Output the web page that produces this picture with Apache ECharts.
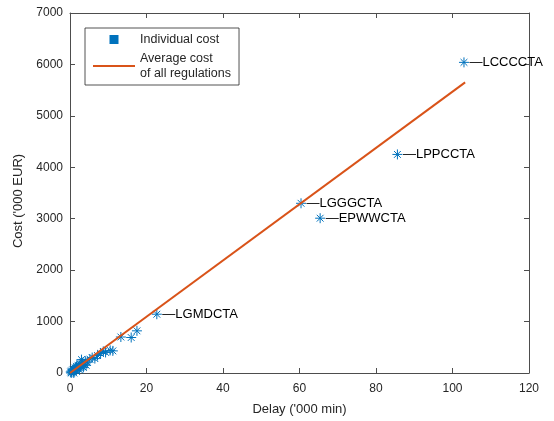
<!DOCTYPE html>
<html><head><meta charset="utf-8">
<script src="https://cdn.jsdelivr.net/npm/echarts@6/dist/echarts.min.js"></script>
<style>html,body{margin:0;padding:0;background:#fff}#c{width:554px;height:421px}</style>
</head><body><div id="c"></div>
<script>
// Individual regulation points: delay ('000 min), cost ('000 EUR), name
const delayVals = [0.2,0.3,0.4,0.5,0.7,0.9,1.0,1.0,1.2,1.4,1.5,1.7,1.9,2.1,2.3,2.5,2.6,2.8,3.0,3.3,3.5,3.6,4.0,4.2,4.5,5.2,5.8,6.5,7.2,8.0,8.7,9.3,10.5,11.2,13.3,16.0,17.5,22.7,60.4,65.4,85.6,103.0];
const costVals  = [20,0,40,15,60,30,80,0,50,100,60,130,90,150,110,60,180,120,260,200,110,160,230,150,210,270,300,280,340,380,420,400,440,430,700,690,820,1143,3300,3010,4250,6040];
const pointNames = ['','','','','','','','','','','','','','','','','','','','','','','','','','','','','','','','','','','','','','LGMDCTA','LGGGCTA','EPWWCTA','LPPCCTA','LCCCCTA'];
// Average cost line endpoints
const avgDelay = [0, 103.3];
const avgCost = [0, 5650];
const xTicks = {min: 0, max: 120, interval: 20};
const yTicks = {min: 0, max: 7000, interval: 1000};
const seriesNames = ['Individual cost', 'Average cost\nof all regulations'];

const scatterData = delayVals.map((d, i) => ({name: pointNames[i], value: [d, costVals[i]]}));
const lineData = avgDelay.map((d, i) => [d, avgCost[i]]);

const axisCol = '#4d4d4d';
const textCol = '#262626';
const font = '"Liberation Sans", Arial, sans-serif';
const chart = echarts.init(document.getElementById('c'));
const baseAxis = {
  axisLine: {show: true, onZero: false, lineStyle: {color: axisCol, width: 1}},
  axisTick: {show: true, inside: true, length: 5, lineStyle: {color: axisCol}},
  splitLine: {show: false}
};
chart.setOption({
  animation: false,
  backgroundColor: '#fff',
  grid: {left: 70, right: 25, top: 13, bottom: 48},
  legend: {
    left: 85, top: 28, orient: 'vertical',
    padding: [4, 8, 4, 8], itemGap: 4,
    itemWidth: 42, itemHeight: 7,
    borderColor: '#262626', borderWidth: 0.8,
    backgroundColor: '#fff',
    textStyle: {fontSize: 12.5, lineHeight: 15, color: textCol, fontFamily: font},
    data: [
      {name: seriesNames[0], icon: 'path://M0 0 H1 V1 H0 Z'},
      {name: seriesNames[1], icon: 'path://M0 0 H40 V2 H0 Z'}
    ]
  },
  xAxis: [
    Object.assign({}, baseAxis, {
      type: 'value', position: 'bottom', min: xTicks.min, max: xTicks.max, interval: xTicks.interval,
      name: "Delay ('000 min)", nameLocation: 'middle', nameGap: 30,
      nameTextStyle: {fontSize: 13, color: textCol, fontFamily: font},
      axisLabel: {fontSize: 12, color: textCol, fontFamily: font, margin: 10, formatter: v => String(v)}
    }),
    Object.assign({}, baseAxis, {
      type: 'value', position: 'top', min: xTicks.min, max: xTicks.max, interval: xTicks.interval,
      axisLabel: {show: false}
    })
  ],
  yAxis: [
    Object.assign({}, baseAxis, {
      type: 'value', position: 'left', min: yTicks.min, max: yTicks.max, interval: yTicks.interval,
      name: "Cost ('000 EUR)", nameLocation: 'middle', nameGap: 41,
      nameTextStyle: {fontSize: 13, color: textCol, fontFamily: font, padding: [0, 16, 0, 0]},
      axisLabel: {fontSize: 12, color: textCol, fontFamily: font, margin: 7, formatter: v => String(v)}
    }),
    Object.assign({}, baseAxis, {
      type: 'value', position: 'right', min: yTicks.min, max: yTicks.max, interval: yTicks.interval,
      axisLabel: {show: false}
    })
  ],
  series: [
    {
      name: seriesNames[0], type: 'scatter',
      symbol: 'path://M5 0 V10 M0 5 H10 M1.6 1.6 L8.4 8.4 M8.4 1.6 L1.6 8.4',
      symbolSize: 10,
      itemStyle: {color: '#0072BD', borderColor: '#0072BD', borderWidth: 1, opacity: 1},
      label: {
        show: true, position: 'right', distance: 0,
        formatter: p => p.name ? '\u2014' + p.name : '',
        fontSize: 13, color: '#000', fontFamily: font
      },
      data: scatterData, z: 2
    },
    {
      name: seriesNames[1], type: 'line', symbol: 'none',
      lineStyle: {color: '#D95319', width: 2}, itemStyle: {color: '#D95319'},
      data: lineData, z: 3
    }
  ]
});
</script></body></html>
